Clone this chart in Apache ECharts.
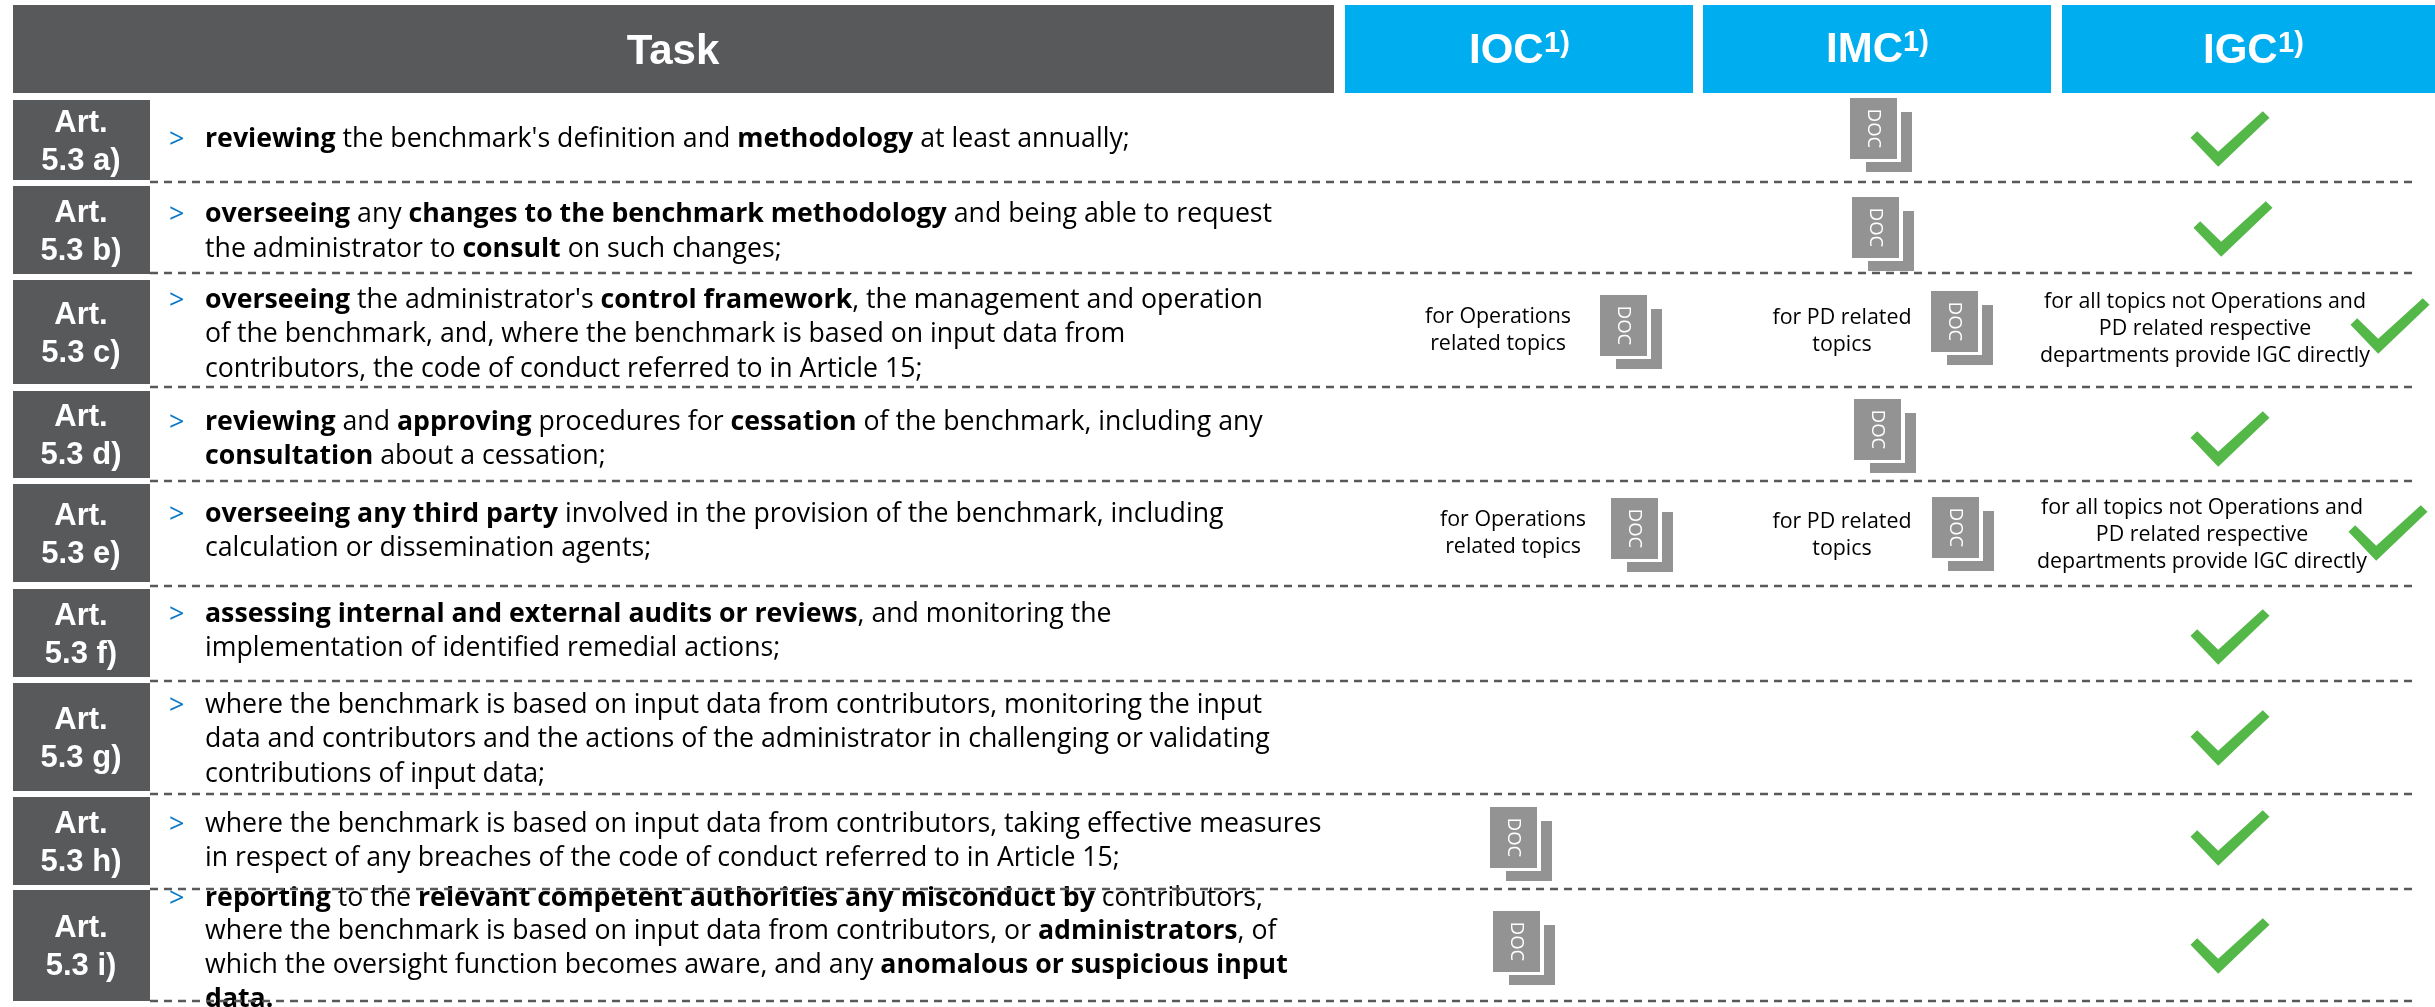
<!DOCTYPE html>
<html><head><meta charset="utf-8">
<style>html,body{margin:0;padding:0;background:#fff}#c{width:2435px;height:1007px}</style>
<script src="https://cdn.jsdelivr.net/npm/echarts@6/dist/echarts.min.js"></script>
</head><body><div id="c"></div>
<script>
const columnHeaders = ['IOC', 'IMC', 'IGC'];
const columnFootnote = '1)';
const taskHeader = 'Task';
const articleLabels = ['5.3 a)','5.3 b)','5.3 c)','5.3 d)','5.3 e)','5.3 f)','5.3 g)','5.3 h)','5.3 i)'];
const articleTop =    [100,186,280,391,484,589,683,797,890];
const articleBottom = [180,274,384,478,582,677,791,885,1001];
const separators =    [182,273,387,481,586,681,794,889,1001];
const taskLines = [
 ['**reviewing** the benchmark\'s definition and **methodology** at least annually;'],
 ['**overseeing** any **changes to the benchmark methodology** and being able to request','the administrator to **consult** on such changes;'],
 ['**overseeing** the administrator\'s **control framework**, the management and operation','of the benchmark, and, where the benchmark is based on input data from','contributors, the code of conduct referred to in Article 15;'],
 ['**reviewing** and **approving** procedures for **cessation** of the benchmark, including any','**consultation** about a cessation;'],
 ['**overseeing any third party** involved in the provision of the benchmark, including','calculation or dissemination agents;'],
 ['**assessing internal and external audits or reviews**, and monitoring the','implementation of identified remedial actions;'],
 ['where the benchmark is based on input data from contributors, monitoring the input','data and contributors and the actions of the administrator in challenging or validating','contributions of input data;'],
 ['where the benchmark is based on input data from contributors, taking effective measures','in respect of any breaches of the code of conduct referred to in Article 15;'],
 ['**reporting** to the **relevant competent authorities any misconduct by** contributors,','where the benchmark is based on input data from contributors, or **administrators**, of','which the oversight function becomes aware, and any **anomalous or suspicious input**','**data.**']
];
const taskLineY = [[139],[214,249],[300,334,369],[422,456],[514,548],[614,648],[705,739,774],[824,858],[898,931,965,999]];
const noteTexts = [
 ['for Operations',1498,317],['related topics',1498,344],
 ['for PD related',1842,318],['topics',1842,345],
 ['for all topics not Operations and',2205,302],['PD related respective',2205,329],['departments provide IGC directly',2205,356],
 ['for Operations',1513,520],['related topics',1513,547],
 ['for PD related',1842,522],['topics',1842,549],
 ['for all topics not Operations and',2202,508],['PD related respective',2202,535],['departments provide IGC directly',2202,562]
];
const docX = [1850,1852,1600,1931,1854,1611,1932,1490,1493];
const docY = [98,197,295,291,399,498,497,807,911];
const checkX = [2230,2233,2390,2230,2388,2230,2230,2230,2230];
const checkY = [139,229,326,439,533,637,738,838,946];

const GRAY='#58595b', BLUE='#00adef', GREEN='#54b848', DOCGRAY='#939393', ARROW='#0a78c8';
const SANS='"Open Sans"', ARIAL='"Liberation Sans"';
const CHECK='path://M0 26.7 L6.7 20 L27.7 40.7 L72.3 0 L79 6.7 L27.7 55.7 Z';

function rich(line){
  return line.split('**').map((p,i)=>p?('{'+(i%2?'b':'n')+'|'+p+'}'):'').join('');
}
const richStyles={
  n:{fontFamily:SANS,fontSize:26.7,fill:'#000',color:'#000'},
  b:{fontFamily:SANS,fontSize:26.7,fontWeight:'bold',fill:'#000',color:'#000'}
};

const boxes=[[13,5,1334,93,GRAY],[1345,5,1693,93,BLUE],[1703,5,2051,93,BLUE],[2062,5,2435,93,BLUE]];
articleLabels.forEach((_,i)=>boxes.push([13,articleTop[i],150,articleBottom[i],GRAY]));

const texts=[];
texts.push({x:673,y:52,text:taskHeader,fs:42,ff:ARIAL,w:'bold',fill:'#fff',a:'center'});
const hx=[1469,1826,2203], hw=[75,77,75], hy=[51,50,51];
columnHeaders.forEach((h,i)=>{
  texts.push({x:hx[i],y:hy[i],text:h,fs:42,ff:ARIAL,w:'bold',fill:'#fff',a:'left'});
  texts.push({x:hx[i]+hw[i],y:hy[i]-7,text:columnFootnote,fs:29,ff:ARIAL,w:'bold',fill:'#fff',a:'left'});
});
articleLabels.forEach((l,i)=>{
  const cy=(articleTop[i]+articleBottom[i])/2;
  texts.push({x:81,y:cy-17,text:'Art.',fs:31,ff:ARIAL,w:'bold',fill:'#fff',a:'center'});
  texts.push({x:81,y:cy+21,text:l,fs:31,ff:ARIAL,w:'bold',fill:'#fff',a:'center'});
});
taskLines.forEach((lines,r)=>{
  texts.push({x:169,y:taskLineY[r][0]+1,text:'>',fs:27,ff:SANS,w:'normal',fill:ARROW,a:'left'});
  lines.forEach((ln,k)=>texts.push({x:205,y:taskLineY[r][k],text:rich(ln),rich:richStyles,fs:26.7,ff:SANS,w:'normal',fill:'#000',a:'left'}));
});
noteTexts.forEach(t=>texts.push({x:t[1],y:t[2],text:t[0],fs:21.4,ff:SANS,w:'normal',fill:'#000',a:'center'}));

const series=[];
series.push({type:'custom',coordinateSystem:'cartesian2d',silent:true,z:1,animation:false,clip:false,
  data:boxes.map(b=>b.slice(0,4)),
  encode:{x:[0,2],y:[1,3]},
  renderItem(p,api){
    const a=api.coord([api.value(0),api.value(1)]), b=api.coord([api.value(2),api.value(3)]);
    return {type:'rect',shape:{x:a[0],y:a[1],width:b[0]-a[0],height:b[1]-a[1]},style:{fill:boxes[p.dataIndex][4]}};
  }});
series.push({type:'custom',coordinateSystem:'cartesian2d',silent:true,z:2,animation:false,clip:false,
  data:docX.map((x,i)=>[x,docY[i]]),
  renderItem(p,api){
    const o=api.coord([api.value(0),api.value(1)]);
    const f=api.coord([api.value(0)+47,api.value(1)+61]);
    const s=api.coord([api.value(0)+16,api.value(1)+14]);
    const e=api.coord([api.value(0)+62,api.value(1)+74]);
    return {type:'group',children:[
      {type:'rect',shape:{x:s[0],y:s[1],width:e[0]-s[0],height:e[1]-s[1]},style:{fill:DOCGRAY}},
      {type:'rect',shape:{x:o[0],y:o[1],width:f[0]-o[0],height:f[1]-o[1]},style:{fill:DOCGRAY}},
      {type:'rect',shape:{x:s[0],y:f[1],width:f[0]-s[0]+4,height:3},style:{fill:'#fff'}},
      {type:'rect',shape:{x:f[0],y:s[1],width:4,height:f[1]-s[1]+3},style:{fill:'#fff'}},
      {type:'text',x:(o[0]+f[0])/2,y:(o[1]+f[1])/2,rotation:-Math.PI/2,
       style:{text:'DOC',fontFamily:SANS,fontSize:18.5,fill:'#fff',textAlign:'center',textVerticalAlign:'middle',verticalAlign:'middle'}}
    ]};
  }});
series.push({type:'custom',coordinateSystem:'cartesian2d',silent:true,z:3,animation:false,clip:false,
  data:texts.map(t=>[t.x,t.y]),
  renderItem(p,api){
    const t=texts[p.dataIndex], c=api.coord([api.value(0),api.value(1)]);
    const st={text:t.text,fontFamily:t.ff,fontSize:t.fs,fontWeight:t.w,fill:t.fill,textAlign:t.a,verticalAlign:'middle',textVerticalAlign:'middle'};
    if(t.rich) st.rich=t.rich;
    return {type:'text',x:c[0],y:c[1],style:st};
  }});
series.push({type:'scatter',silent:true,z:4,animation:false,clip:false,
  symbol:CHECK,symbolSize:[79,55.7],itemStyle:{color:GREEN,opacity:1},
  data:checkX.map((x,i)=>[x,checkY[i]])});
separators.forEach(y=>series.push({type:'line',silent:true,z:5,animation:false,clip:false,showSymbol:false,
  lineStyle:{color:GRAY,width:2.5,type:[8,6]},data:[[150,y],[2413,y]]}));

const chart=echarts.init(document.getElementById('c'),null,{renderer:'canvas'});
chart.setOption({
  animation:false,backgroundColor:'#fff',
  grid:{left:0,right:0,top:0,bottom:0,containLabel:false},
  tooltip:{show:false},
  xAxis:{type:'value',min:0,max:2435,show:false},
  yAxis:{type:'value',min:0,max:1007,inverse:true,show:false},
  series
});
</script></body></html>
